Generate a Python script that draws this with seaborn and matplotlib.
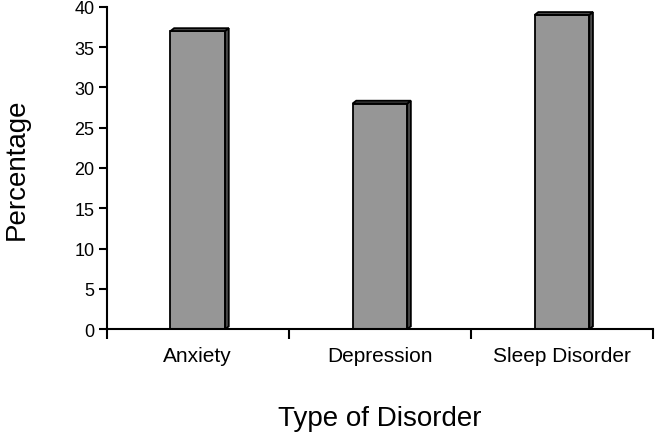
import pandas as pd
import matplotlib.pyplot as plt
import seaborn as sns
from matplotlib.patches import Polygon

disorders = ['Anxiety', 'Depression', 'Sleep Disorder']
percentages = [37, 28, 39]
y_ticks = [0, 5, 10, 15, 20, 25, 30, 35, 40]

BAR_GREY = '#969696'
SIDE_GREY = '#4a4a4a'


def init_plotting():
    sns.set_style('ticks')
    plt.rcParams['font.family'] = ['Liberation Sans', 'DejaVu Sans']
    plt.rcParams['text.color'] = 'black'
    plt.rcParams['axes.labelcolor'] = 'black'
    plt.rcParams['xtick.color'] = 'black'
    plt.rcParams['ytick.color'] = 'black'
    plt.rcParams['axes.edgecolor'] = 'black'


def add_depth(ax, dx=0.02, dy=0.35):
    # fake excel-style 3d: side + top face for each bar
    for bar in list(ax.patches):
        x0 = bar.get_x()
        w = bar.get_width()
        h = bar.get_height()
        x1 = x0 + w
        side = Polygon([(x1, 0), (x1 + dx, dy), (x1 + dx, h + dy), (x1, h)],
                       closed=True, facecolor=SIDE_GREY, edgecolor='black', linewidth=1.3,
                       clip_on=False, zorder=bar.get_zorder())
        top = Polygon([(x0, h), (x0 + dx, h + dy), (x1 + dx, h + dy), (x1, h)],
                      closed=True, facecolor=SIDE_GREY, edgecolor='black', linewidth=1.3,
                      clip_on=False, zorder=bar.get_zorder())
        ax.add_patch(side)
        ax.add_patch(top)


def plot(save_to='out.png'):
    df = pd.DataFrame(data={'Type of Disorder': disorders, 'Percentage': percentages})

    fig = plt.figure(figsize=(6.55, 4.35), dpi=100)
    ax = fig.add_axes([0.163, 0.241, 0.834, 0.741])

    sns.barplot(data=df, x='Type of Disorder', y='Percentage', color=BAR_GREY,
                saturation=1, width=0.3, edgecolor='black', linewidth=1.3, ax=ax)
    add_depth(ax)

    ax.set_xlim(-0.5, 2.5)
    ax.set_ylim(0, 40)
    ax.set_yticks(y_ticks)
    ax.set_xticks([-0.5, 0.5, 1.5, 2.5], minor=True)
    ax.tick_params(axis='x', which='major', length=0, pad=12, labelsize=15)
    ax.tick_params(axis='x', which='minor', length=7, width=1.5, direction='out')
    ax.tick_params(axis='y', length=6, width=1.5, labelsize=13, pad=3)
    for side in ['top', 'right']:
        ax.spines[side].set_visible(False)
    for side in ['left', 'bottom']:
        ax.spines[side].set_linewidth(1.5)

    ax.set_xlabel('Type of Disorder', fontsize=20, labelpad=29)
    ax.set_ylabel('Percentage', fontsize=20, labelpad=32)

    fig.savefig(save_to, dpi=100)


init_plotting()
plot()
